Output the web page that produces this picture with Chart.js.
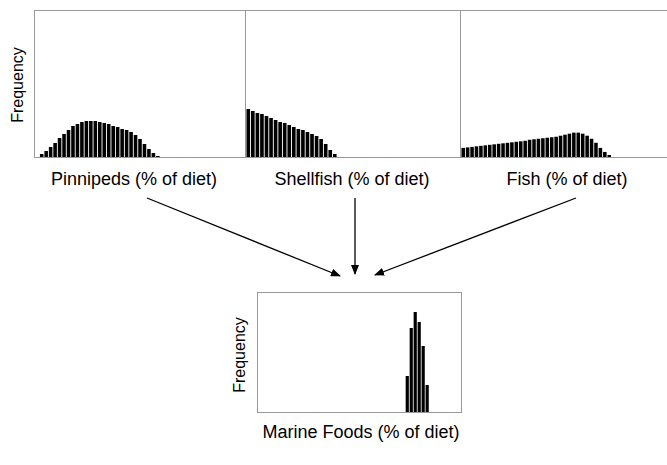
<!DOCTYPE html>
<html><head><meta charset="utf-8">
<script src="https://cdn.jsdelivr.net/npm/chart.js@4"></script>
<style>
body{margin:0;background:#fff;width:667px;height:465px;position:relative;overflow:hidden;font-family:"Liberation Sans",Arial,sans-serif;}
.box{position:absolute;border:1px solid #999;box-sizing:border-box;}
.box canvas{position:absolute;left:0;top:0;}
.t{position:absolute;font-size:18px;color:#000;white-space:nowrap;transform:translateX(-50%);}
.v{position:absolute;font-size:16px;white-space:nowrap;transform:translate(-50%,-50%) rotate(-90deg);}
svg{position:absolute;left:0;top:0;}
</style></head><body>
<div class="box" style="left:34px;top:10px;width:212px;height:148px"><canvas id="c1"></canvas></div>
<div class="box" style="left:245px;top:10px;width:216px;height:148px"><canvas id="c2"></canvas></div>
<div class="box" style="left:460px;top:10px;width:210px;height:148px"><canvas id="c3"></canvas></div>
<div class="box" style="left:257px;top:292px;width:205px;height:121px"><canvas id="c4"></canvas></div>
<div class="v" style="left:18px;top:85px">Frequency</div>
<div class="v" style="left:240px;top:355px">Frequency</div>
<div class="t" style="left:134px;top:169px">Pinnipeds (% of diet)</div>
<div class="t" style="left:352px;top:169px">Shellfish (% of diet)</div>
<div class="t" style="left:567px;top:169px">Fish (% of diet)</div>
<div class="t" style="left:361px;top:422px">Marine Foods (% of diet)</div>
<svg width="667" height="465">
<defs><marker id="a" markerWidth="10" markerHeight="8" refX="9" refY="4" orient="auto" markerUnits="userSpaceOnUse"><path d="M0,0 L10,4 L0,8 z" fill="#000"/></marker></defs>
<line x1="147" y1="198" x2="340" y2="276" stroke="#000" stroke-width="1.3" marker-end="url(#a)"/>
<line x1="355" y1="198" x2="355" y2="274" stroke="#000" stroke-width="1.3" marker-end="url(#a)"/>
<line x1="576" y1="198" x2="375" y2="275" stroke="#000" stroke-width="1.3" marker-end="url(#a)"/>
</svg>
<script>
const binsTop = Array.from({length:47},(_,i)=>i);
const binsBottom = Array.from({length:51},(_,i)=>i);
const pinnipeds = [0,3,6,10,14,19,23,27,31,33,35,36,36,36,35,34,33,31,30,28,27,25,22,18,13,8,4,1];
const shellfish = [48,46,44,43,41,39,37,35,34,32,30,28,27,25,23,21,18,13,7,3];
const fish = [9,9.5,10,10.5,11,11.5,12,12.5,13,13.5,14,14.5,15,15.5,16,17,17.5,18,18.5,19,19.5,20,21,22,23,24,24,23,21,18,14,9,5,2];
const marine = [36,84,100,90,66,27];
const marineStart = 37;
function pad(arr,n,start){const o=new Array(n).fill(0);arr.forEach((v,i)=>o[start+i]=v);return o;}
function make(id,labels,data,ymax){
  new Chart(document.getElementById(id),{type:'bar',
    data:{labels:labels,datasets:[{data:data,backgroundColor:'#000',barPercentage:0.8,categoryPercentage:1}]},
    options:{responsive:true,maintainAspectRatio:false,animation:false,
      layout:{padding:0},
      plugins:{legend:{display:false},tooltip:{enabled:false}},
      scales:{x:{display:false},y:{display:false,min:0,max:ymax}}}});
}
make('c1',binsTop,pad(pinnipeds,47,0),146);
make('c2',binsTop,pad(shellfish,47,0),146);
make('c3',binsTop,pad(fish,47,0),144);
make('c4',binsBottom,pad(marine,51,marineStart),119);
</script>
</body></html>
